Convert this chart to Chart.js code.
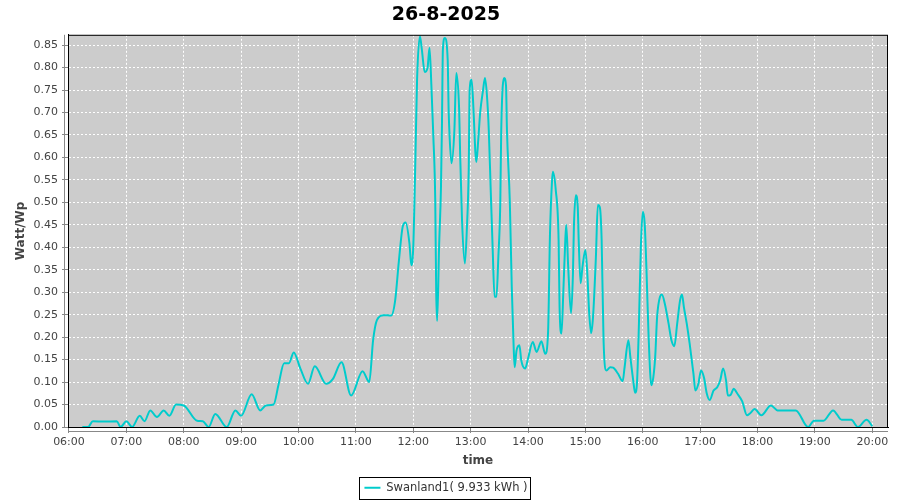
<!DOCTYPE html>
<html>
<head>
<meta charset="utf-8">
<script src="https://cdn.jsdelivr.net/npm/chart.js@4.4.0/dist/chart.umd.min.js"></script>
<style>
  html, body { margin: 0; padding: 0; background: #fff; }
  canvas { display: block; }
</style>
</head>
<body>
<canvas id="chart" width="900" height="500"></canvas>
<script>
// Заголовок и подписи
const chartTitle = '26-8-2025';
const seriesName = 'Swanland1( 9.933 kWh )';
const xAxisTitle = 'time';
const yAxisTitle = 'Watt/Wp';

// Время замеров (ЧЧ:ММ) и мощность, Watt/Wp
const times = [
  '06:14', '06:20', '06:25', '06:37', '06:50', '06:54', '07:00', '07:06', '07:14', '07:19',
  '07:25', '07:32', '07:39', '07:45', '07:52', '08:00', '08:14', '08:20', '08:26', '08:33',
  '08:45', '08:54', '09:00', '09:11', '09:20', '09:26', '09:34', '09:39', '09:45', '09:50',
  '09:55', '10:02', '10:10', '10:17', '10:29', '10:36', '10:45', '10:55', '11:07', '11:14',
  '11:18', '11:22', '11:29', '11:37', '11:41', '11:45', '11:49', '11:52', '11:56', '11:58',
  '12:00', '12:02', '12:04', '12:07', '12:09', '12:12', '12:15', '12:17', '12:19', '12:21',
  '12:23', '12:24', '12:25', '12:27', '12:29', '12:30', '12:31', '12:33', '12:36', '12:37',
  '12:38', '12:40', '12:43', '12:45', '12:48', '12:49', '12:51', '12:54', '12:56', '12:58',
  '12:59', '13:01', '13:03', '13:05', '13:06', '13:08', '13:10', '13:13', '13:15', '13:17',
  '13:19', '13:21', '13:23', '13:25', '13:27', '13:29', '13:31', '13:32', '13:35', '13:37',
  '13:38', '13:41', '13:43', '13:45', '13:46', '13:48', '13:51', '13:53', '13:57', '14:00',
  '14:05', '14:09', '14:14', '14:18', '14:21', '14:23', '14:25', '14:26', '14:29', '14:32',
  '14:33', '14:35', '14:37', '14:39', '14:40', '14:42', '14:45', '14:47', '14:48', '14:50',
  '14:52', '14:53', '14:55', '14:57', '15:00', '15:02', '15:04', '15:06', '15:08', '15:11',
  '15:13', '15:15', '15:17', '15:19', '15:22', '15:26', '15:29', '15:34', '15:39', '15:41',
  '15:45', '15:47', '15:50', '15:52', '15:54', '15:56', '15:58', '16:00', '16:02', '16:04',
  '16:06', '16:09', '16:11', '16:13', '16:15', '16:18', '16:20', '16:23', '16:27', '16:30',
  '16:33', '16:36', '16:39', '16:41', '16:43', '16:46', '16:49', '16:53', '16:55', '16:58',
  '17:01', '17:04', '17:07', '17:10', '17:14', '17:18', '17:21', '17:24', '17:27', '17:29',
  '17:32', '17:35', '17:39', '17:44', '17:49', '17:52', '17:57', '18:04', '18:14', '18:21',
  '18:30', '18:40', '18:53', '18:59', '19:09', '19:19', '19:28', '19:38', '19:45', '19:54',
  '20:00'
];
const watts = [
  0.000, 0.000, 0.013, 0.012, 0.013, 0.000, 0.013, 0.000, 0.025, 0.013,
  0.037, 0.022, 0.037, 0.025, 0.050, 0.048, 0.014, 0.013, 0.000, 0.029,
  0.000, 0.037, 0.025, 0.073, 0.037, 0.048, 0.050, 0.093, 0.142, 0.142,
  0.166, 0.130, 0.096, 0.135, 0.096, 0.107, 0.144, 0.070, 0.124, 0.100,
  0.193, 0.238, 0.249, 0.248, 0.280, 0.370, 0.446, 0.455, 0.409, 0.360,
  0.400, 0.572, 0.773, 0.870, 0.840, 0.790, 0.800, 0.844, 0.758, 0.647,
  0.505, 0.300, 0.236, 0.400, 0.535, 0.669, 0.840, 0.866, 0.818, 0.706,
  0.647, 0.587, 0.660, 0.788, 0.706, 0.610, 0.460, 0.364, 0.438, 0.572,
  0.750, 0.773, 0.706, 0.610, 0.590, 0.640, 0.700, 0.750, 0.777, 0.740,
  0.660, 0.528, 0.400, 0.290, 0.290, 0.379, 0.498, 0.660, 0.777, 0.760,
  0.660, 0.500, 0.312, 0.178, 0.133, 0.170, 0.182, 0.148, 0.130, 0.152,
  0.189, 0.167, 0.191, 0.163, 0.212, 0.431, 0.543, 0.568, 0.528, 0.416,
  0.267, 0.208, 0.305, 0.416, 0.450, 0.357, 0.253, 0.342, 0.446, 0.516,
  0.490, 0.416, 0.320, 0.357, 0.394, 0.342, 0.253, 0.209, 0.245, 0.379,
  0.494, 0.490, 0.416, 0.193, 0.126, 0.133, 0.132, 0.119, 0.102, 0.133,
  0.193, 0.156, 0.104, 0.076, 0.100, 0.230, 0.400, 0.479, 0.453, 0.342,
  0.208, 0.093, 0.110, 0.156, 0.245, 0.290, 0.295, 0.275, 0.230, 0.193,
  0.180, 0.230, 0.282, 0.295, 0.267, 0.230, 0.186, 0.119, 0.081, 0.095,
  0.126, 0.110, 0.074, 0.060, 0.081, 0.089, 0.104, 0.130, 0.105, 0.070,
  0.072, 0.085, 0.074, 0.057, 0.026, 0.030, 0.040, 0.026, 0.048, 0.037,
  0.037, 0.037, 0.000, 0.014, 0.014, 0.037, 0.016, 0.016, 0.000, 0.016,
  0.002
];

// Подписи осей
const xTickLabels = ['06:00', '07:00', '08:00', '09:00', '10:00', '11:00', '12:00', '13:00',
  '14:00', '15:00', '16:00', '17:00', '18:00', '19:00', '20:00'];
const yTickValues = [0, 0.05, 0.10, 0.15, 0.20, 0.25, 0.30, 0.35, 0.40, 0.45,
  0.50, 0.55, 0.60, 0.65, 0.70, 0.75, 0.80, 0.85];

const FONT = 'DejaVu Sans';
const LINE_COLOR = '#00cccc';

function toHours(hhmm) {
    const [h, m] = hhmm.split(':').map(Number);
    return h + m / 60;
}

const points = times.map((t, i) => ({ x: toHours(t), y: watts[i] }));

// Фон области графика, рамка и смещённые оси (как в JFreeChart)
const plotFrame = {
    id: 'plotFrame',
    beforeDraw(chart) {
        const { ctx, chartArea: a } = chart;
        ctx.save();
        ctx.fillStyle = '#fff';
        ctx.fillRect(0, 0, chart.width, chart.height);
        ctx.fillStyle = '#cccccc';
        ctx.fillRect(a.left, a.top, a.right - a.left, a.bottom - a.top);
        ctx.restore();
    },
    afterDraw(chart) {
        const { ctx, chartArea: a } = chart;
        ctx.save();
        ctx.lineWidth = 1;
        ctx.strokeStyle = '#000';
        ctx.strokeRect(a.left + 0.5, a.top + 0.5, a.right - a.left - 1, a.bottom - a.top);
        ctx.strokeStyle = '#888';
        ctx.beginPath();
        ctx.moveTo(a.left - 3.5, a.top);
        ctx.lineTo(a.left - 3.5, a.bottom + 1);
        ctx.moveTo(a.left, a.bottom + 4.5);
        ctx.lineTo(a.right, a.bottom + 4.5);
        ctx.stroke();

        // рамка вокруг легенды
        const hb = chart.legend.legendHitBoxes[0];
        if (hb) {
            ctx.strokeStyle = '#000';
            ctx.strokeRect(Math.round(hb.left) - 4.5, Math.round(hb.top) - 4.5, Math.round(hb.width) + 8, Math.round(hb.height) + 10);
        }
        ctx.restore();
    }
};

new Chart(document.getElementById('chart'), {
    type: 'line',
    data: {
        datasets: [{
            label: seriesName,
            data: points,
            borderColor: LINE_COLOR,
            backgroundColor: LINE_COLOR,
            borderWidth: 2,
            pointRadius: 0,
            cubicInterpolationMode: 'monotone',
            fill: false
        }]
    },
    options: {
        responsive: false,
        animation: false,
        layout: { padding: { left: 4, right: 12, top: 0, bottom: 2 } },
        plugins: {
            title: {
                display: true,
                text: chartTitle,
                color: '#000',
                font: { family: FONT, size: 19, weight: 'bold' },
                padding: { top: 4, bottom: 8 }
            },
            legend: {
                position: 'bottom',
                maxHeight: 26,
                labels: {
                    color: '#333',
                    font: { family: FONT, size: 11.5 },
                    usePointStyle: true,
                    pointStyle: 'line',
                    pointStyleWidth: 16,
                    boxHeight: 11,
                    padding: 10
                }
            },
            tooltip: { enabled: false }
        },
        scales: {
            x: {
                type: 'linear',
                min: 5.983,
                max: 20.274,
                afterBuildTicks: scale => { scale.ticks = xTickLabels.map(l => ({ value: toHours(l) })); },
                afterFit: scale => { scale.height = 45; },
                ticks: {
                    autoSkip: false,
                    maxRotation: 0,
                    padding: 3,
                    color: '#444',
                    font: { family: FONT, size: 11 },
                    callback: (value, index) => xTickLabels[index]
                },
                grid: { color: '#fff', lineWidth: 1, tickLength: 6, tickColor: '#888', tickBorderDash: [] },
                border: { display: true, color: '#000', dash: [2, 2] },
                title: {
                    display: true,
                    text: xAxisTitle,
                    color: '#444',
                    font: { family: FONT, size: 12, weight: 'bold' },
                    padding: { top: 4, bottom: 4 }
                }
            },
            y: {
                min: 0,
                max: 0.873,
                afterBuildTicks: scale => { scale.ticks = yTickValues.map(v => ({ value: v })); },
                afterFit: scale => { scale.width = 64; },
                ticks: {
                    autoSkip: false,
                    padding: 4,
                    color: '#444',
                    font: { family: FONT, size: 11 },
                    callback: value => value.toFixed(2)
                },
                grid: { color: '#fff', lineWidth: 1, tickLength: 6, tickColor: '#888', tickBorderDash: [] },
                border: { display: true, color: '#000', dash: [2, 2] },
                title: {
                    display: true,
                    text: yAxisTitle,
                    color: '#444',
                    font: { family: FONT, size: 12, weight: 'bold' },
                    padding: { top: 10, bottom: 6 }
                }
            }
        }
    },
    plugins: [plotFrame]
});
</script>
</body>
</html>
